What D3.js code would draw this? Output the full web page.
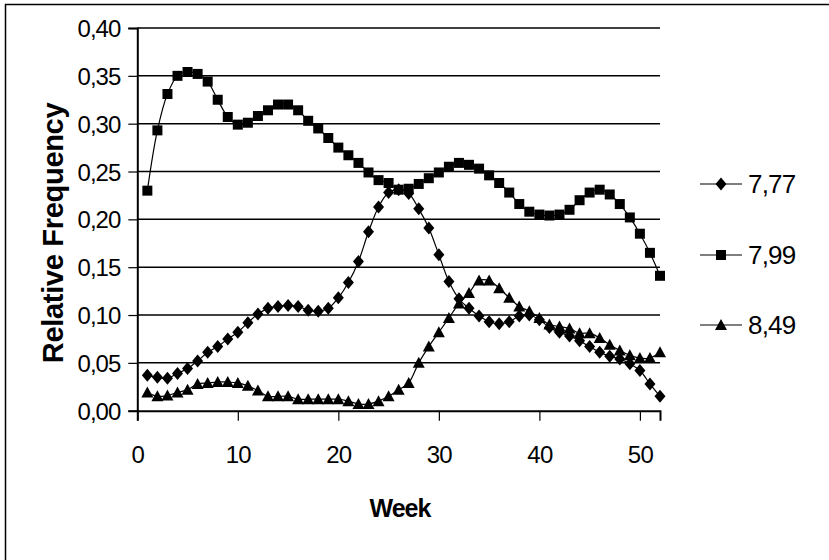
<!DOCTYPE html>
<html><head><meta charset="utf-8">
<script src="https://cdn.jsdelivr.net/npm/d3@7/dist/d3.min.js"></script>
<style>body{margin:0;background:#fff;} svg{display:block;font-family:"Liberation Sans",Arial,sans-serif;}</style>
</head><body>
<svg id="c" width="829" height="560"></svg>
<script>
const weeks = d3.range(1, 53);
const s777 = [0.037,0.035,0.034,0.039,0.044,0.052,0.061,0.067,0.075,0.082,0.092,0.101,0.107,0.109,0.110,0.109,0.105,0.104,0.107,0.118,0.134,0.156,0.187,0.213,0.228,0.231,0.227,0.211,0.191,0.163,0.135,0.117,0.107,0.099,0.093,0.091,0.093,0.099,0.100,0.095,0.087,0.082,0.078,0.073,0.067,0.061,0.057,0.054,0.049,0.042,0.028,0.015];
const s799 = [0.230,0.293,0.331,0.350,0.354,0.352,0.344,0.325,0.307,0.299,0.301,0.308,0.314,0.320,0.320,0.314,0.303,0.295,0.285,0.275,0.267,0.259,0.249,0.241,0.238,0.231,0.232,0.237,0.243,0.249,0.255,0.259,0.257,0.253,0.246,0.238,0.228,0.216,0.208,0.205,0.204,0.205,0.210,0.220,0.228,0.231,0.226,0.216,0.202,0.185,0.165,0.141];
const s849 = [0.019,0.015,0.016,0.019,0.022,0.028,0.029,0.030,0.030,0.029,0.026,0.021,0.015,0.015,0.015,0.012,0.012,0.012,0.012,0.012,0.010,0.007,0.007,0.010,0.015,0.022,0.029,0.050,0.067,0.082,0.097,0.112,0.123,0.136,0.136,0.128,0.118,0.109,0.104,0.097,0.090,0.088,0.086,0.081,0.081,0.076,0.069,0.063,0.058,0.055,0.055,0.061];
const seriesNames = ["7,77","7,99","8,49"];
const seriesSymbols = ["diamond","square","triangle"];
const yTicks = [0,0.05,0.10,0.15,0.20,0.25,0.30,0.35,0.40];
const xTicks = [0,10,20,30,40,50];

const svg = d3.select("#c");
const x = d3.scaleLinear().domain([0,52]).range([137.3,660]);
const y = d3.scaleLinear().domain([0,0.40]).range([410.7,28]);
const fmt = v => d3.format(".2f")(v).replace(".", ",");

// outer frame
svg.append("rect").attr("x",5.5).attr("y",4.5).attr("width",840).attr("height",600)
  .attr("fill","none").attr("stroke","#000").attr("stroke-width",1.5);

// gridlines
svg.append("g").selectAll("line").data(yTicks.slice(1)).join("line")
  .attr("x1",x(0)).attr("x2",x(52)).attr("y1",d=>y(d)).attr("y2",d=>y(d))
  .attr("stroke","#000").attr("stroke-width",1.5);

// axes
const yAxis = d3.axisLeft(y).tickValues(yTicks).tickFormat(fmt).tickSize(9).tickPadding(8);
const gy = svg.append("g").attr("transform",`translate(${x(0)},0)`).call(yAxis);
gy.select(".domain").attr("stroke-width",2);
gy.selectAll(".tick line").attr("stroke-width",1.2);
gy.selectAll("text").attr("font-size",24).attr("letter-spacing",-1).attr("fill","#000")
  .attr("font-family","Liberation Sans, Arial, sans-serif").attr("dy","0.36em");

const xAxis = d3.axisBottom(x).tickValues(xTicks).tickFormat(d3.format("d")).tickSize(10).tickPadding(32);
const gx = svg.append("g").attr("transform",`translate(0,${y(0)})`).call(xAxis);
gx.select(".domain").attr("stroke-width",2);
gx.selectAll(".tick line").attr("stroke-width",1.2);
gx.selectAll("text").attr("font-size",24).attr("letter-spacing",-0.8).attr("fill","#000")
  .attr("font-family","Liberation Sans, Arial, sans-serif").attr("dy","0");
gx.selectAll(".tick text").attr("y",52);

// titles
svg.append("text").attr("transform","translate(63,233) rotate(-90)").attr("text-anchor","middle")
  .attr("font-weight","bold").attr("font-size",29).attr("letter-spacing",-0.3).text("Relative Frequency");
svg.append("text").attr("x",400).attr("y",517).attr("text-anchor","middle")
  .attr("font-weight","bold").attr("font-size",25).attr("letter-spacing",-1).text("Week");

// marker shapes
const shapes = {
  diamond: "M0,-6.5L5.5,0L0,6.5L-5.5,0Z",
  square: "M-5,-5H5V5H-5Z",
  triangle: "M0,-6L6,5H-6Z"
};
const allSeries = [s777, s799, s849];
const line = d3.line().x((d,i)=>x(weeks[i])).y(d=>y(d)).curve(d3.curveCatmullRom.alpha(0.5));
allSeries.forEach((s, k) => {
  const g = svg.append("g");
  g.append("path").attr("d", line(s)).attr("fill","none").attr("stroke","#000").attr("stroke-width",1.2);
  g.selectAll("path.m").data(s).join("path").attr("class","m")
    .attr("transform",(d,i)=>`translate(${x(weeks[i])},${y(d)})`)
    .attr("d", shapes[seriesSymbols[k]]).attr("fill","#000");
});

// legend
const legY = [184, 255, 325];
seriesNames.forEach((n,k) => {
  const g = svg.append("g").attr("transform",`translate(0,${legY[k]})`);
  g.append("line").attr("x1",700).attr("x2",742).attr("y1",0).attr("y2",0).attr("stroke","#000").attr("stroke-width",1.2);
  g.append("path").attr("transform","translate(721,0)")
    .attr("d", shapes[seriesSymbols[k]]).attr("fill","#000");
  g.append("text").attr("x",748).attr("y",9).attr("font-size",26).attr("letter-spacing",-0.8).text(n);
});
</script>
</body></html>
